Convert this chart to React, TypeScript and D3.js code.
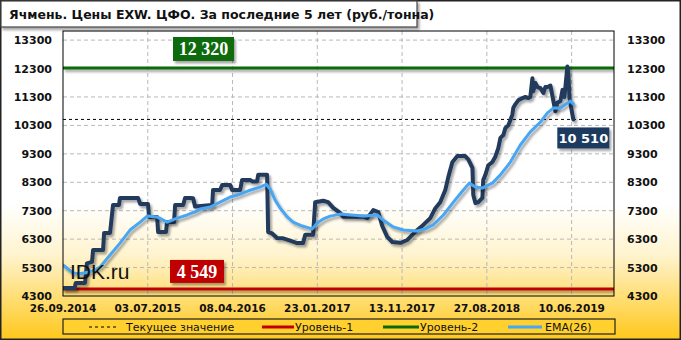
import React from "react";
import * as d3 from "d3";

const TITLE = "Ячмень. Цены EXW. ЦФО. За последние 5 лет (руб./тонна)";
const Y_TICKS = [4300, 5300, 6300, 7300, 8300, 9300, 10300, 11300, 12300, 13300];
const X_LABELS = ["26.09.2014", "03.07.2015", "08.04.2016", "23.01.2017", "13.11.2017", "27.08.2018", "10.06.2019"];
const X_LABEL_IDX = [0, 40, 80, 120, 160, 200, 240];
const LEVEL_1 = 4549;
const LEVEL_2 = 12320;
const CURRENT = 10510;
const LEGEND = ["Текущее значение", "Уровень-1", "Уровень-2", "EMA(26)"];

// [point index, price]
const PRICE: [number, number][] = [
  [0, 4580], [5.5, 4580], [6, 4760], [9.5, 4760], [10.4, 4760], [11.3, 5450], [13.7, 5500],
  [14.2, 5920], [18.9, 5920], [19.4, 6520], [22.2, 6520], [23.6, 7500], [26.4, 7500],
  [26.9, 7750], [35.4, 7750], [36.4, 7540], [40.1, 7540], [40.6, 7080], [44.4, 7080],
  [44.9, 6550], [48.6, 6550], [49.1, 6900], [52.4, 6900], [52.9, 7500], [56.7, 7500],
  [57.6, 7750], [60.0, 7750], [61.4, 7740], [62.3, 7450], [70.4, 7500], [70.8, 8030],
  [74.1, 8030], [75.1, 8200], [78.9, 8200], [79.8, 8030], [83.6, 8030], [84.5, 8380],
  [88.3, 8380], [89.3, 8330], [91.6, 8330], [92.1, 8560], [96.3, 8560], [96.8, 6550],
  [98.7, 6500], [101, 6340], [103.9, 6330], [107.2, 6250], [110.5, 6160], [113.3, 6160],
  [114.3, 6450], [118, 6450], [119, 7600], [122.8, 7650], [125.1, 7600], [127.5, 7400],
  [130.8, 7220], [132.2, 7090], [141.7, 7090], [143.6, 7040], [146.4, 7320], [148.8, 7250],
  [150.6, 6770], [153, 6380], [155.4, 6200], [159.2, 6170], [162.5, 6270], [164.8, 6450],
  [167.2, 6620], [170, 6800], [173.3, 7040], [175.7, 7390], [178, 7600], [180.4, 8030],
  [181.8, 8480], [183.7, 9000], [186.1, 9220], [189.8, 9220], [191.3, 9100], [193.2, 8810],
  [193.6, 7850], [194.6, 7570], [196, 7600], [197.9, 7750], [198.3, 8380], [199.3, 8560],
  [200.7, 8900], [202.6, 9010], [204, 9200], [205.4, 9500], [206.4, 9860], [207.8, 9960],
  [208.7, 10200], [210.2, 10310], [211.1, 10490], [212, 10670], [212.5, 10920], [213.5, 11050],
  [214.9, 11190], [216.8, 11260], [218.2, 11300], [219.6, 11260], [220.5, 11300], [221.5, 11960],
  [221.9, 11500], [222.9, 11790], [223.9, 11650], [225.3, 11610], [226.7, 11440], [227.6, 11650],
  [228.6, 11650], [230, 11700], [231.4, 11150], [232.3, 10800], [233.3, 11100], [234.7, 11150],
  [235.7, 11550], [236.6, 11300], [238, 12370], [238.5, 12080], [239, 11260], [240.4, 10670],
  [240.8, 10510],
];

// [point index, EMA(26)]
const EMA: [number, number][] = [
  [0, 5390], [4.7, 5110], [8, 5080], [12.8, 5150], [17.5, 5320], [22.2, 5740], [26.9, 6160],
  [31.6, 6620], [36.4, 6900], [39.7, 7110], [44.4, 7080], [49.1, 6900], [52.9, 7010],
  [58.6, 7150], [63.3, 7290], [64.7, 7360], [69.4, 7430], [74.1, 7600], [78.9, 7780],
  [83.6, 7880], [88.3, 8020], [93, 8130], [95.9, 8230], [97.8, 8050], [100.1, 7670],
  [102.5, 7390], [105.8, 7080], [108.6, 6900], [112.9, 6760], [117.6, 6660], [120, 6870],
  [122.8, 7010], [126.1, 7110], [130.8, 7180], [141.7, 7110], [148.3, 7150], [151.1, 6970],
  [155.8, 6730], [160.6, 6620], [167.2, 6590], [171, 6660], [174.7, 6800], [179.5, 7150],
  [184.2, 7600], [188.9, 8030], [191.7, 8270], [194.6, 8130], [197.9, 8100], [202.6, 8270],
  [206.4, 8560], [211.1, 9010], [215.8, 9610], [220.5, 10070], [225.3, 10420], [228.6, 10740],
  [231.4, 10910], [234.7, 10910], [238, 11090], [239.4, 11160], [240.8, 11050],
];

const W = 681;
const H = 340;
const PL = 63, PR = 614, PT = 31, PB = 296;

const fmt = (v: number) => d3.format(",")(v).replace(/,/g, " ");

export default function App() {
  const x = d3.scaleLinear().domain([0, 260]).range([PL, PR]);
  const y = d3.scaleLinear().domain([4300, 13620]).range([PB, PT]);
  const line = d3.line<[number, number]>().x((d) => x(d[0])).y((d) => y(d[1]));
  const sans = "Tahoma, 'DejaVu Sans', sans-serif";
  const lastIdx = PRICE[PRICE.length - 1][0];

  return (
    <svg width={W} height={H} style={{ position: "absolute", left: 0, top: 0 }} fontFamily={sans}>
      <defs>
        <linearGradient id="bg" x1="0" y1="0" x2="0" y2="1">
          <stop offset="0" stopColor="#ffffff" />
          <stop offset="0.6" stopColor="#ffffff" />
          <stop offset="0.75" stopColor="#fff4cf" />
          <stop offset="1" stopColor="#ffc81c" />
        </linearGradient>
        <filter id="sh" filterUnits="userSpaceOnUse" x={0} y={0} width={W} height={H}>
          <feDropShadow dx="2" dy="2.5" stdDeviation="1.3" floodColor="#000" floodOpacity="0.35" />
        </filter>
        <clipPath id="plot">
          <rect x={PL} y={PT} width={PR - PL} height={PB - PT} />
        </clipPath>
      </defs>
      <rect x={0.75} y={0.75} width={W - 1.5} height={H - 1.5} fill="url(#bg)" stroke="#222" strokeWidth={1.5} />

      {/* grid */}
      {Y_TICKS.slice(1).map((t) => (
        <line key={"gy" + t} x1={PL} x2={PR} y1={y(t)} y2={y(t)} stroke="#b8b8b8" strokeDasharray="4,3" />
      ))}
      {X_LABEL_IDX.slice(1).map((i) => (
        <line key={"gx" + i} x1={x(i)} x2={x(i)} y1={PT} y2={PB} stroke="#b8b8b8" strokeDasharray="4,3" />
      ))}

      {/* y labels */}
      {Y_TICKS.map((t) => (
        <g key={"yl" + t} fontSize={11} fontWeight="bold" fill="#111">
          <text x={52} y={y(t) + 4} textAnchor="end">{t}</text>
          <text x={627} y={y(t) + 4} textAnchor="start">{t}</text>
        </g>
      ))}
      {/* x labels */}
      {X_LABELS.map((l, k) => (
        <text key={l} x={x(X_LABEL_IDX[k])} y={312} textAnchor="middle" fontSize={10.5} fontWeight="bold" fill="#111">{l}</text>
      ))}

      <g clipPath="url(#plot)">
        <line x1={PL} x2={PR} y1={y(CURRENT)} y2={y(CURRENT)} stroke="#000" strokeDasharray="3,3" strokeWidth={1} />
        <line x1={PL} x2={PR} y1={y(LEVEL_2)} y2={y(LEVEL_2)} stroke="#0a6a0a" strokeWidth={3} filter="url(#sh)" />
        <line x1={PL} x2={PR} y1={y(LEVEL_1)} y2={y(LEVEL_1)} stroke="#c00000" strokeWidth={3} filter="url(#sh)" />
        <path d={line(PRICE) || ""} fill="none" stroke="#243a5c" strokeWidth={4} strokeLinejoin="round" strokeLinecap="round" filter="url(#sh)" />
        <path d={line(EMA) || ""} fill="none" stroke="#48a6f2" strokeWidth={3} strokeLinejoin="round" strokeLinecap="round" filter="url(#sh)" />
      </g>
      <rect x={PL} y={PT} width={PR - PL} height={PB - PT} fill="none" stroke="#000" strokeWidth={1} />

      <text x={70} y={279} fontSize={21} fontFamily="'Liberation Sans', Arial, sans-serif" fill="#111">IDK.ru</text>

      {/* value labels */}
      <g filter="url(#sh)">
        <rect x={173} y={y(LEVEL_2) - 31} width={61} height={24} fill="#0a6a0a" />
        <rect x={170} y={y(LEVEL_1) - 29} width={54} height={23} fill="#c00000" />
        <rect x={x(lastIdx) - 16} y={y(CURRENT) + 8} width={52} height={21} fill="#1e3a5f" />
      </g>
      <text x={203.5} y={y(LEVEL_2) - 12.5} textAnchor="middle" fontSize={18} fontWeight="bold" fontFamily="'Liberation Serif', 'Times New Roman', serif" fill="#fff">{fmt(LEVEL_2)}</text>
      <text x={197} y={y(LEVEL_1) - 11} textAnchor="middle" fontSize={18} fontWeight="bold" fontFamily="'Liberation Serif', 'Times New Roman', serif" fill="#fff">{fmt(LEVEL_1)}</text>
      <text x={x(lastIdx) + 10} y={y(CURRENT) + 23.5} textAnchor="middle" fontSize={13} fontWeight="bold" fill="#fff">{fmt(CURRENT)}</text>

      {/* title */}
      <rect x={1} y={1} width={416} height={26} fill="#fff" stroke="#444" strokeWidth={1.2} filter="url(#sh)" />
      <text x={9} y={19} fontSize={12.5} fontWeight="bold" fill="#111">{TITLE}</text>

      {/* legend */}
      <rect x={63} y={319} width={552} height={15} fill="#ffd02e" stroke="#222" strokeWidth={1.2} />
      <g fontSize={11} fill="#111">
        <line x1={89} x2={119} y1={327} y2={327} stroke="#000" strokeDasharray="3,3" />
        <text x={126} y={331}>{LEGEND[0]}</text>
        <line x1={262} x2={294} y1={327} y2={327} stroke="#c00000" strokeWidth={3} />
        <text x={295} y={331}>{LEGEND[1]}</text>
        <line x1={383} x2={419} y1={327} y2={327} stroke="#0a6a0a" strokeWidth={3} />
        <text x={420} y={331}>{LEGEND[2]}</text>
        <line x1={508} x2={542} y1={327} y2={327} stroke="#48a6f2" strokeWidth={3} />
        <text x={545} y={331}>{LEGEND[3]}</text>
      </g>
    </svg>
  );
}
